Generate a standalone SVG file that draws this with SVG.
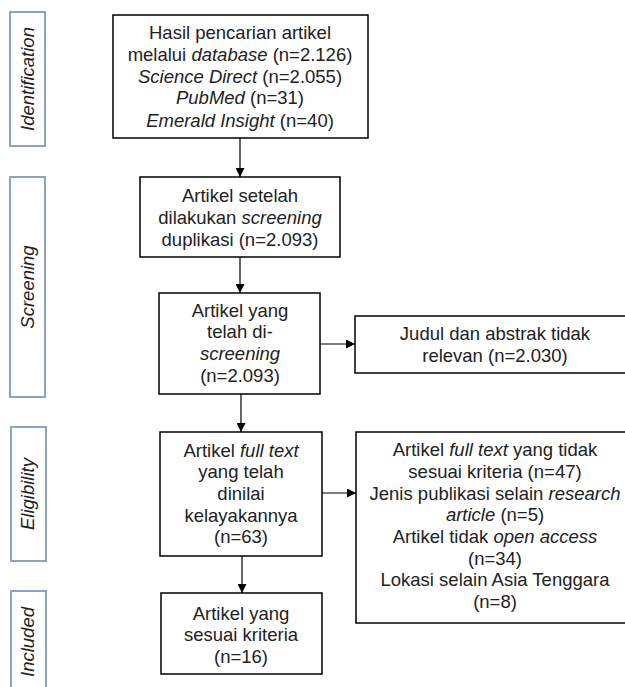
<svg xmlns="http://www.w3.org/2000/svg" width="625" height="687" viewBox="0 0 625 687">
<style>
  .box { fill: #ffffff; stroke: #000000; stroke-width: 1.5; }
  .lab { fill: #ffffff; stroke: #8fa3c0; stroke-width: 2; }
  .t { font-family: "Liberation Sans", Arial, sans-serif; font-size: 18.5px; fill: #222222; text-anchor: middle; }
  .i { font-style: italic; }
  .c { stroke: #000000; stroke-width: 1.2; fill: none; marker-end: url(#ah); }
</style>
<defs>
  <marker id="ah" viewBox="0 0 10 10" refX="10" refY="5" markerWidth="10" markerHeight="9" markerUnits="userSpaceOnUse" orient="auto">
    <path d="M0,0 L10,5 L0,10 Z" fill="#000000"/>
  </marker>
</defs>
<rect width="625" height="687" fill="#ffffff"/>

<g id="label-identification">
  <rect class="lab" x="10" y="12" width="35" height="134"/>
  <text class="t i" transform="translate(34,79) rotate(-90)">Identification</text>
</g>
<g id="label-screening">
  <rect class="lab" x="10" y="177" width="35" height="220"/>
  <text class="t i" transform="translate(34,287) rotate(-90)">Screening</text>
</g>
<g id="label-eligibility">
  <rect class="lab" x="11" y="427" width="35" height="134"/>
  <text class="t i" transform="translate(34,494) rotate(-90)">Eligibility</text>
</g>
<g id="label-included">
  <rect class="lab" x="11" y="591" width="35" height="110"/>
  <text class="t i" transform="translate(34,642) rotate(-90)">Included</text>
</g>

<g id="connectors">
  <line class="c" x1="240" y1="138" x2="240" y2="177"/>
  <line class="c" x1="240" y1="257" x2="240" y2="293"/>
  <line class="c" x1="241" y1="394" x2="241" y2="432"/>
  <line class="c" x1="242" y1="556" x2="242" y2="593"/>
  <line class="c" x1="320" y1="344" x2="355" y2="344"/>
  <line class="c" x1="322" y1="493" x2="356" y2="493"/>
</g>

<g id="node-identification">
  <rect class="box" x="113" y="15" width="255" height="123"/>
  <text class="t" x="240" y="39">Hasil pencarian artikel</text>
  <text class="t" x="240" y="61">melalui <tspan class="i">database</tspan> (n=2.126)</text>
  <text class="t" x="240" y="83"><tspan class="i">Science Direct</tspan> (n=2.055)</text>
  <text class="t" x="240" y="104"><tspan class="i">PubMed</tspan> (n=31)</text>
  <text class="t" x="240" y="127"><tspan class="i">Emerald Insight</tspan> (n=40)</text>
</g>

<g id="node-duplicates">
  <rect class="box" x="140" y="177" width="200" height="80"/>
  <text class="t" x="240" y="202">Artikel setelah</text>
  <text class="t" x="240" y="224">dilakukan <tspan class="i">screening</tspan></text>
  <text class="t" x="240" y="246">duplikasi (n=2.093)</text>
</g>

<g id="node-screened">
  <rect class="box" x="159" y="293" width="161" height="101"/>
  <text class="t" x="240" y="317">Artikel yang</text>
  <text class="t" x="240" y="338">telah di-</text>
  <text class="t i" x="240" y="360">screening</text>
  <text class="t" x="240" y="382">(n=2.093)</text>
</g>

<g id="node-excluded-abstract">
  <rect class="box" x="355" y="316" width="280" height="57"/>
  <text class="t" x="495" y="340">Judul dan abstrak tidak</text>
  <text class="t" x="495" y="362">relevan (n=2.030)</text>
</g>

<g id="node-eligibility">
  <rect class="box" x="160" y="432" width="162" height="124"/>
  <text class="t" x="241" y="457">Artikel <tspan class="i">full text</tspan></text>
  <text class="t" x="241" y="478">yang telah</text>
  <text class="t" x="241" y="500">dinilai</text>
  <text class="t" x="241" y="522">kelayakannya</text>
  <text class="t" x="241" y="543">(n=63)</text>
</g>

<g id="node-excluded-fulltext">
  <rect class="box" x="356" y="432" width="280" height="191"/>
  <text class="t" x="495" y="456">Artikel <tspan class="i">full text</tspan> yang tidak</text>
  <text class="t" x="495" y="478">sesuai kriteria (n=47)</text>
  <text class="t" x="495" y="500">Jenis publikasi selain <tspan class="i">research</tspan></text>
  <text class="t" x="495" y="521"><tspan class="i">article</tspan> (n=5)</text>
  <text class="t" x="495" y="543">Artikel tidak <tspan class="i">open access</tspan></text>
  <text class="t" x="495" y="565">(n=34)</text>
  <text class="t" x="495" y="586">Lokasi selain Asia Tenggara</text>
  <text class="t" x="495" y="608">(n=8)</text>
</g>

<g id="node-included">
  <rect class="box" x="161" y="593" width="161" height="81"/>
  <text class="t" x="241" y="620">Artikel yang</text>
  <text class="t" x="241" y="641">sesuai kriteria</text>
  <text class="t" x="241" y="663">(n=16)</text>
</g>
</svg>
